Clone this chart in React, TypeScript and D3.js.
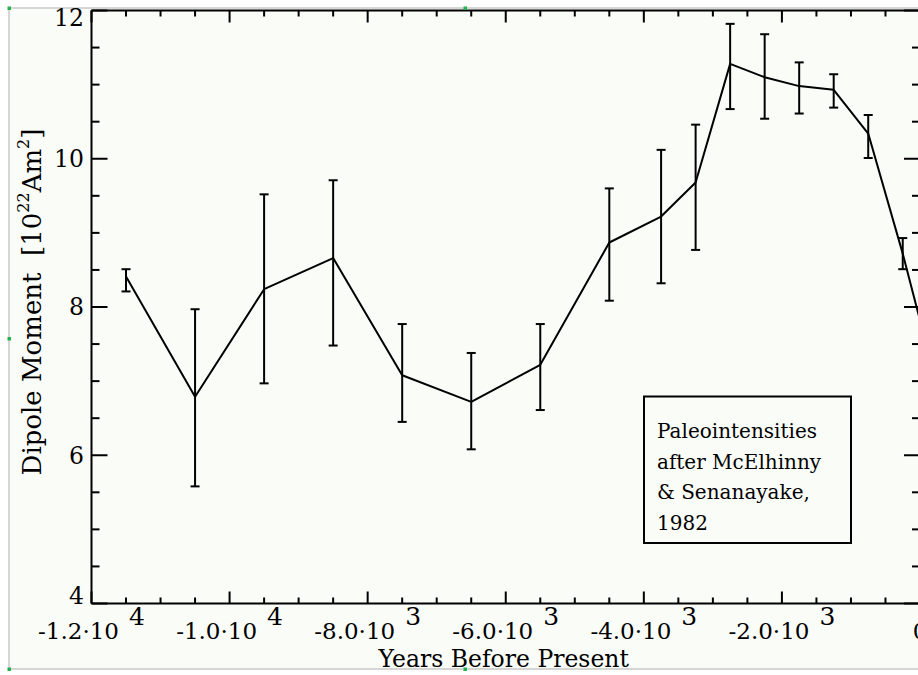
import React from "react";
import * as d3 from "d3";

// ---- data ----
const years = [-11500, -10500, -9500, -8500, -7500, -6500, -5500, -4500, -3750, -3250, -2750, -2250, -1750, -1250, -750, -250, 0];
const moments = [8.41, 6.79, 8.24, 8.66, 7.08, 6.72, 7.22, 8.87, 9.22, 9.68, 11.28, 11.1, 10.98, 10.93, 10.34, 8.72, 7.82];
const errLow: (number | null)[] = [8.21, 5.58, 6.97, 7.48, 6.45, 6.08, 6.61, 8.085, 8.32, 8.77, 10.67, 10.54, 10.61, 10.69, 10.01, 8.51, null];
const errHigh: (number | null)[] = [8.51, 7.97, 9.52, 9.71, 7.77, 7.38, 7.77, 9.6, 10.12, 10.46, 11.82, 11.68, 11.3, 11.14, 10.59, 8.93, null];

const xMajorTicks = [-12000, -10000, -8000, -6000, -4000, -2000, 0];
const xTickMantissa = ["-1.2·10", "-1.0·10", "-8.0·10", "-6.0·10", "-4.0·10", "-2.0·10", "0"];
const xTickExponent = ["4", "4", "3", "3", "3", "3", ""];
const yMajorTicks = [4, 6, 8, 10, 12];
const yTickLabels = ["4", "6", "8", "10", "12"];

const xTitle = "Years Before Present";
const legendLines = ["Paleointensities", "after McElhinny", "& Senanayake,", "1982"];

const W = 918;
const H = 675;
const FONT = "'DejaVu Serif', serif";

export default function App() {
  const left = 91.5, right = 920, top = 10.5, bottom = 603.5;
  const x = d3.scaleLinear().domain([-12000, 0]).range([left, right]);
  const y = d3.scaleLinear().domain([4, 12]).range([bottom, top]);

  const xMinor = d3.range(-12000, 1, 500).filter((v) => !xMajorTicks.includes(v));
  const yMinor = d3.range(4, 12.001, 0.5).filter((v) => !yMajorTicks.includes(v));

  const line = d3
    .line<number>()
    .x((_, i) => x(years[i]))
    .y((d) => y(d));

  // frame of the embedded picture
  const fx0 = 9, fy0 = 8, fx1 = 921, fy1 = 669;
  const handles = [
    [fx0, fy0], [(fx0 + fx1) / 2, fy0],
    [fx0, (fy0 + fy1) / 2],
    [fx0, fy1], [(fx0 + fx1) / 2, fy1],
  ];

  const legX0 = 644, legY0 = 396.5, legX1 = 851, legY1 = 543;

  return (
    <svg
      width={W}
      height={H}
      style={{ position: "absolute", left: 0, top: 0, background: "#ffffff" }}
      fontFamily={FONT}
    >
      <rect x={fx0} y={fy0} width={fx1 - fx0} height={fy1 - fy0} fill="#fafcf8" stroke="#c9c9c9" strokeWidth={1.5} />

      {/* axes frame */}
      <g stroke="#000" strokeWidth={2} fill="none">
        <line x1={left} y1={bottom} x2={right} y2={bottom} />
        <line x1={left} y1={top} x2={right} y2={top} />
        <line x1={left} y1={top} x2={left} y2={bottom} />
        <line x1={right} y1={top} x2={right} y2={bottom} />
        {xMajorTicks.map((t) => (
          <g key={"xm" + t}>
            <line x1={x(t)} x2={x(t)} y1={bottom} y2={bottom - 12} />
            <line x1={x(t)} x2={x(t)} y1={top} y2={top + 12} />
          </g>
        ))}
        {xMinor.map((t) => (
          <g key={"xn" + t}>
            <line x1={x(t)} x2={x(t)} y1={bottom} y2={bottom - 6} />
            <line x1={x(t)} x2={x(t)} y1={top} y2={top + 6} />
          </g>
        ))}
        {yMajorTicks.map((t) => (
          <g key={"ym" + t}>
            <line x1={left} x2={left + 16} y1={y(t)} y2={y(t)} />
            <line x1={right} x2={right - 16} y1={y(t)} y2={y(t)} />
          </g>
        ))}
        {yMinor.map((t) => (
          <g key={"yn" + t}>
            <line x1={left} x2={left + 8} y1={y(t)} y2={y(t)} />
            <line x1={right} x2={right - 8} y1={y(t)} y2={y(t)} />
          </g>
        ))}
      </g>

      {/* y tick labels */}
      {yMajorTicks.map((t, i) => {
        const cy = Math.min(Math.max(y(t), top + 7.5), bottom - 8);
        return (
          <text key={"yl" + t} x={84} y={cy} dy="0.36em" textAnchor="end" fontSize={23.5} fill="#000">
            {yTickLabels[i]}
          </text>
        );
      })}

      {/* x tick labels */}
      {xMajorTicks.map((t, i) => (
        <text key={"xl" + t} x={x(t)} y={639} textAnchor="middle" fontSize={23} fill="#000">
          <tspan>{xTickMantissa[i]}</tspan>
          {xTickExponent[i] && (
            <tspan dx={10} dy={-14} fontSize={25}>
              {xTickExponent[i]}
            </tspan>
          )}
        </text>
      ))}

      {/* axis titles */}
      <text x={(left + right) / 2 - 2} y={667} textAnchor="middle" fontSize={23.5} fill="#000">
        {xTitle}
      </text>
      <text
        transform={`translate(41, 302) rotate(-90)`}
        textAnchor="middle"
        fontSize={26}
        fill="#000"
        style={{ whiteSpace: "pre" }}
      >
        <tspan>{"Dipole Moment  [10"}</tspan>
        <tspan fontSize={16} dy={-12}>22</tspan>
        <tspan dy={12}>Am</tspan>
        <tspan fontSize={16} dy={-12}>2</tspan>
        <tspan dy={12}>]</tspan>
      </text>

      {/* data */}
      <path d={line(moments) || ""} fill="none" stroke="#000" strokeWidth={2} strokeLinejoin="round" />
      <g stroke="#000" strokeWidth={2}>
        {years.map((yr, i) => {
          const lo = errLow[i], hi = errHigh[i];
          if (lo == null || hi == null) return null;
          const cx = x(yr);
          return (
            <g key={"e" + yr}>
              <line x1={cx} x2={cx} y1={y(lo)} y2={y(hi)} />
              <line x1={cx - 4.5} x2={cx + 4.5} y1={y(lo)} y2={y(lo)} />
              <line x1={cx - 4.5} x2={cx + 4.5} y1={y(hi)} y2={y(hi)} />
            </g>
          );
        })}
      </g>

      {/* legend box */}
      <rect x={legX0} y={legY0} width={legX1 - legX0} height={legY1 - legY0} fill="#fafcf8" stroke="#000" strokeWidth={2} />
      {legendLines.map((s, i) => (
        <text key={"lg" + i} x={657} y={438 + i * 30.5} fontSize={20} fill="#000">
          {s}
        </text>
      ))}

      {/* selection handles of the picture */}
      {handles.map(([hx, hy], i) => (
        <rect key={"h" + i} x={hx - 1.5} y={hy - 1.5} width={3.5} height={3.5} fill="#22b14c" />
      ))}
    </svg>
  );
}
